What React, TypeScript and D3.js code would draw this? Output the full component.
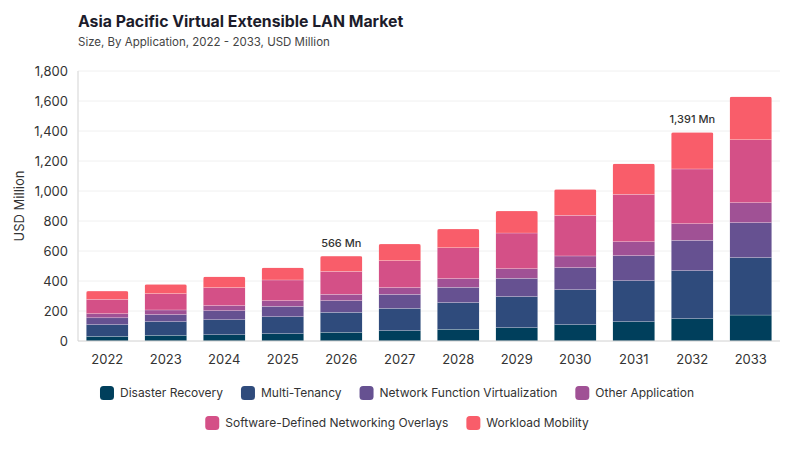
import { useRef, useEffect } from "react";
import * as d3 from "d3";

const years = ["2022", "2023", "2024", "2025", "2026", "2027", "2028", "2029", "2030", "2031", "2032", "2033"];

const seriesNames = [
    "Disaster Recovery",
    "Multi-Tenancy",
    "Network Function Virtualization",
    "Other Application",
    "Software-Defined Networking Overlays",
    "Workload Mobility",
];

const disasterRecovery = [31, 38, 42, 49, 58, 69, 78, 89, 109, 129, 149, 173];
const multiTenancy = [78, 91, 100, 113, 133, 149, 178, 207, 233, 273, 320, 383];
const networkFunction = [46, 47, 60, 69, 78, 93, 102, 122, 147, 167, 202, 233];
const otherApplication = [27, 31, 34, 38, 42, 45, 58, 64, 78, 93, 111, 133];
const sdnOverlays = [96, 109, 120, 138, 153, 180, 206, 238, 271, 316, 365, 420];
const workloadMobility = [55, 62, 73, 82, 102, 111, 125, 147, 173, 204, 244, 287];

const colors = ["#003f5c", "#2f4b7c", "#665191", "#a05195", "#d45087", "#f95d6a"];

const yTicks = [0, 200, 400, 600, 800, 1000, 1200, 1400, 1600, 1800];

// bars that carry a total label
const labelled = ["2026", "2032"];

const W = 800;
const H = 450;
const margin = { top: 71, right: 20, bottom: 109, left: 78 };
const font = "Inter, 'DejaVu Sans', sans-serif";

export default function App() {
    const ref = useRef<SVGSVGElement>(null);

    useEffect(draw, []);

    function draw() {
        if (!ref.current) return;
        const svg = d3.select(ref.current);
        svg.selectAll("*").remove();

        const values = [disasterRecovery, multiTenancy, networkFunction, otherApplication, sdnOverlays, workloadMobility];
        const rows = years.map((year, i) => {
            const row: Record<string, any> = { year };
            seriesNames.forEach((s, k) => (row[s] = values[k][i]));
            return row;
        });
        const stacked = d3.stack<Record<string, any>>().keys(seriesNames)(rows);

        const x = d3.scaleBand().domain(years).range([margin.left, W - margin.right]).paddingInner(0.28).paddingOuter(0.14);
        const y = d3.scaleLinear().domain([0, 1800]).range([H - margin.bottom, margin.top]);

        // title
        svg.append("text")
            .attr("x", 78).attr("y", 27)
            .attr("font-size", 15.8).attr("font-weight", 700)
            .attr("fill", "#1c1c2b")
            .text("Asia Pacific Virtual Extensible LAN Market");
        svg.append("text")
            .attr("x", 78).attr("y", 46)
            .attr("font-size", 11.5).attr("fill", "#444")
            .text("Size, By Application, 2022 - 2033, USD Million");

        // grid
        svg.append("g")
            .selectAll("line")
            .data(yTicks.filter(d => d > 0))
            .join("line")
            .attr("x1", margin.left).attr("x2", W - margin.right)
            .attr("y1", d => y(d)).attr("y2", d => y(d))
            .attr("stroke", "#f0f0f0");

        // y labels
        svg.append("g")
            .selectAll("text")
            .data(yTicks)
            .join("text")
            .attr("x", 68).attr("y", d => y(d))
            .attr("dy", "0.35em")
            .attr("text-anchor", "end")
            .attr("font-size", 13).attr("fill", "#333")
            .text(d => d3.format(",")(d));

        svg.append("text")
            .attr("transform", `translate(24,${(y(0) + y(1800)) / 2}) rotate(-90)`)
            .attr("text-anchor", "middle")
            .attr("font-size", 13).attr("fill", "#333")
            .text("USD Million");

        // bars, clipped so only the top corners are rounded
        const clipDefs = svg.append("defs");
        years.forEach((yr, i) => {
            const top = y(stacked[stacked.length - 1][i][1]);
            clipDefs.append("clipPath").attr("id", "clip" + i)
                .append("rect")
                .attr("x", x(yr)!).attr("y", top)
                .attr("width", x.bandwidth()).attr("height", y(0) - top + 5)
                .attr("rx", 2);
        });

        svg.append("g")
            .selectAll("g")
            .data(stacked)
            .join("g")
            .attr("fill", (_, k) => colors[k])
            .selectAll("rect")
            .data(d => d)
            .join("rect")
            .attr("clip-path", (_, i) => `url(#clip${i})`)
            .attr("x", d => x(d.data.year)!)
            .attr("y", d => y(d[1]))
            .attr("width", x.bandwidth())
            .attr("height", d => y(d[0]) - y(d[1]))
            .attr("stroke", "rgba(255,255,255,0.35)")
            .attr("stroke-width", 0.6);

        // axes lines
        svg.append("line")
            .attr("x1", margin.left).attr("x2", margin.left)
            .attr("y1", margin.top).attr("y2", y(0))
            .attr("stroke", "#e2e2e2").attr("stroke-width", 1.5);
        svg.append("line")
            .attr("x1", margin.left).attr("x2", W - margin.right)
            .attr("y1", y(0)).attr("y2", y(0))
            .attr("stroke", "#d0d0d0");

        // x labels
        svg.append("g")
            .selectAll("text")
            .data(years)
            .join("text")
            .attr("x", d => x(d)! + x.bandwidth() / 2)
            .attr("y", 364)
            .attr("text-anchor", "middle")
            .attr("font-size", 13).attr("fill", "#333")
            .text(d => d);

        // total labels
        svg.append("g")
            .selectAll("text")
            .data(rows.filter(r => labelled.includes(r.year)))
            .join("text")
            .attr("x", d => x(d.year)! + x.bandwidth() / 2)
            .attr("y", d => y(d3.sum(seriesNames, s => d[s])) - 9)
            .attr("text-anchor", "middle")
            .attr("font-size", 11).attr("font-weight", 500).attr("fill", "#333")
            .text(d => d3.format(",")(d3.sum(seriesNames, s => d[s])) + " Mn");

        // legend
        const legendRows = [seriesNames.slice(0, 4), seriesNames.slice(4)];
        const legendY = [393, 423];
        const cx = 397;
        const gap = 18;
        legendRows.forEach((names, r) => {
            const g = svg.append("g");
            let offset = 0;
            names.forEach(name => {
                const k = seriesNames.indexOf(name);
                const item = g.append("g").attr("transform", `translate(${offset},0)`);
                item.append("rect")
                    .attr("x", 0).attr("y", legendY[r] - 7)
                    .attr("width", 14).attr("height", 14).attr("rx", 3.5)
                    .attr("fill", colors[k]);
                const t = item.append("text")
                    .attr("x", 20).attr("y", legendY[r])
                    .attr("dy", "0.35em")
                    .attr("font-size", 12).attr("fill", "#333")
                    .text(name);
                const w = (t.node() as SVGTextElement).getComputedTextLength();
                offset += 20 + w + gap;
            });
            const total = offset - gap;
            g.attr("transform", `translate(${cx - total / 2},0)`);
        });
    }

    return (
        <svg ref={ref} width={W} height={H} style={{ display: "block", margin: -8, fontFamily: font, background: "#fff" }} />
    );
}
